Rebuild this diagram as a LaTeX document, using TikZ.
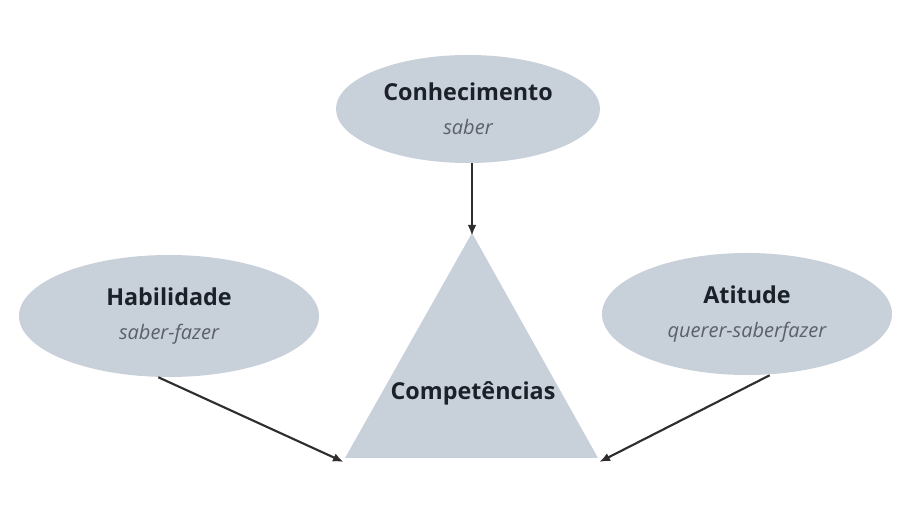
\documentclass[tikz,border=0pt]{standalone}
\usepackage{fontspec}
\setmainfont{Open Sans}
\usetikzlibrary{shapes.geometric,arrows.meta}
\definecolor{fundo}{RGB}{200,208,218}
\definecolor{textoescuro}{RGB}{28,32,40}
\definecolor{textocinza}{RGB}{92,96,104}
\newcommand{\titulo}[1]{{\fontsize{17.5}{25.5}\selectfont\bfseries #1}}

\begin{document}
\begin{tikzpicture}[x=0.75pt,y=0.75pt,yscale=-1,xscale=1,
  bolha/.style={ellipse,fill=fundo,inner sep=0pt,minimum height=91.5pt,align=center,
    font=\fontsize{15}{25.5}\selectfont,text=textoescuro},
  seta/.style={-{Latex[length=8pt,width=6.5pt]},line width=1.6pt,color=black!82}]
\useasboundingbox (0,0) rectangle (908,516);

%Shape: Triangle
\coordinate (topo) at (472,233);
\coordinate (baseesq) at (345,458);
\coordinate (basedir) at (598,458);
\fill [fundo] (topo) -- (basedir) -- (baseesq) -- cycle ;

% Text Node
\node (comp) at (473,393) [text=textoescuro] {\titulo{Competências}};

%Shape: Ellipse
\node (conh) at (468,109) [bolha,minimum width=198pt,minimum height=81pt] {\titulo{Conhecimento}\\\textcolor{textocinza}{\itshape saber}};
%Shape: Ellipse
\node (hab) at (169,316) [bolha,minimum width=225pt] {\titulo{Habilidade}\\\textcolor{textocinza}{\itshape saber-fazer}};
%Shape: Ellipse
\node (ati) at (747,314) [bolha,minimum width=217.5pt] {\titulo{Atitude}\\\textcolor{textocinza}{\itshape querer-saberfazer}};

% Arrows
\draw [seta] (conh.south -| topo) -- ([yshift=2pt]topo) ;
\draw [seta] ([xshift=-8pt]hab.south) -- ([xshift=-1pt,yshift=3pt]baseesq) ;
\draw [seta] ([xshift=17pt]ati.south) -- ([xshift=1pt,yshift=3pt]basedir) ;

\end{tikzpicture}
\end{document}
